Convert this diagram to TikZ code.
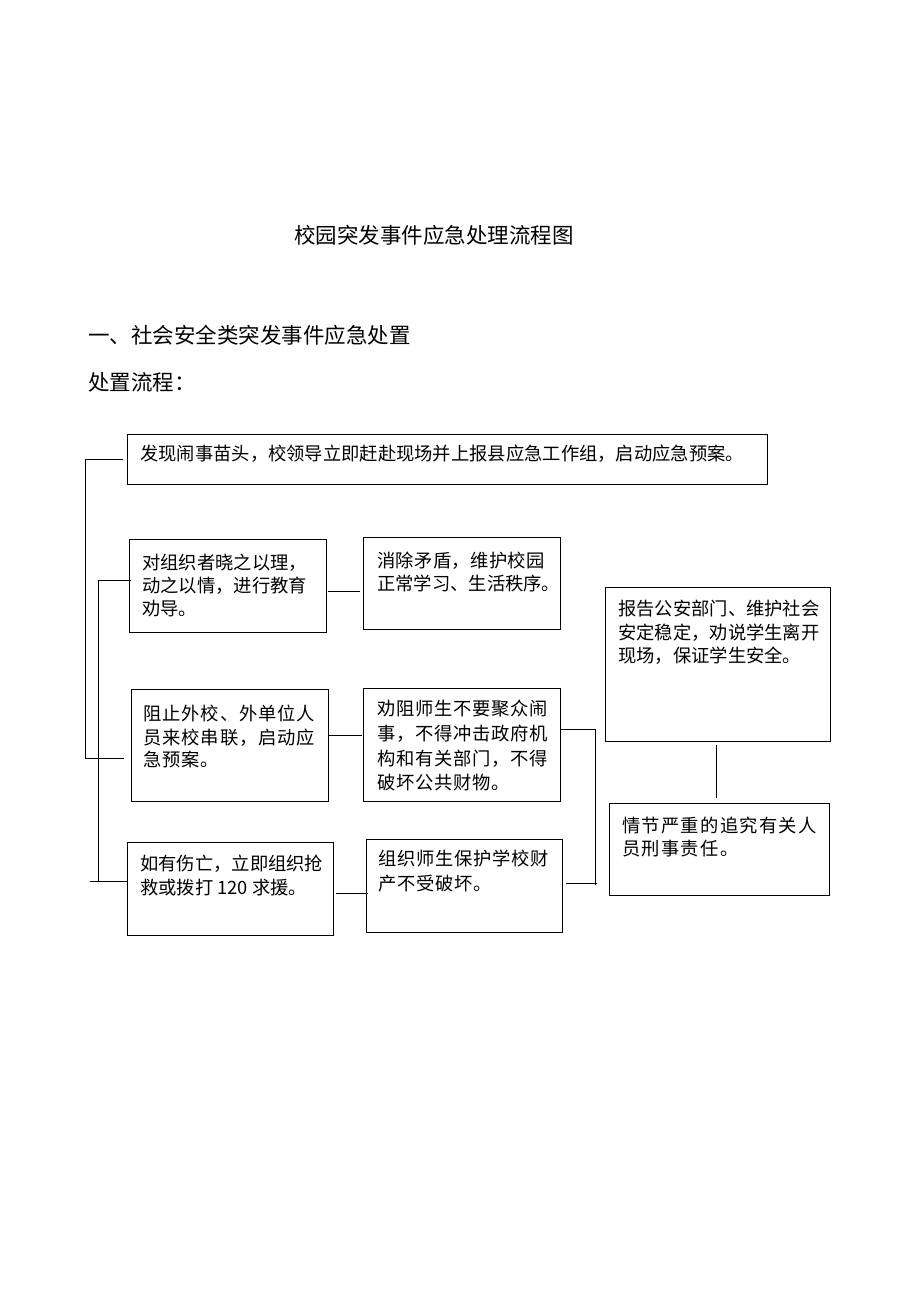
\documentclass[tikz,border=0pt]{standalone}
\usepackage{fontspec}
\setmainfont{Noto Sans CJK SC}
\newcommand\bodyfont{\fontsize{18.3}{23}\selectfont}
\newcommand\headfont{\fontsize{21.5}{26}\selectfont}
\newcommand\wide[1]{\addfontfeature{LetterSpace=#1}}
\begin{document}
\begin{tikzpicture}[x=1pt,y=-1pt,
  box/.style={draw=black,line width=1pt,rectangle,anchor=north west,inner sep=0pt},
  txt/.style={anchor=base west,inner sep=0pt,font=\bodyfont,text=black},
  head/.style={anchor=base west,inner sep=0pt,font=\headfont,text=black},
  link/.style={draw=black,line width=1pt}]
\useasboundingbox[fill=white] (0,0) rectangle (920,1302);
% titles
\node[head,anchor=base] (title) at (434,243) {校园突发事件应急处理流程图};
\node[head] (sec) at (88,343) {一、社会安全类突发事件应急处置};
\node[head] (proc) at (88,390) {处置流程：};
% boxes
\node[box,minimum width=640,minimum height=50] (b1) at (127,434) {};
\node[box,minimum width=197,minimum height=93] (b2) at (129,539) {};
\node[box,minimum width=197,minimum height=92] (b3) at (363,537) {};
\node[box,minimum width=197,minimum height=112] (b4) at (131,689) {};
\node[box,minimum width=197,minimum height=113] (b5) at (363,688) {};
\node[box,minimum width=206,minimum height=93] (b6) at (127,842) {};
\node[box,minimum width=196,minimum height=93] (b7) at (366,839) {};
\node[box,minimum width=225,minimum height=154] (b8) at (605,587) {};
\node[box,minimum width=220,minimum height=92] (b9) at (609,803) {};
% texts
\node[txt] (t1a) at (140,460) {发现闹事苗头，校领导立即赶赴现场并上报县应急工作组，启动应急预案。};
\node[txt] (t2a) at (142,569) {对组织者晓之以理，};
\node[txt] (t2b) at (142,592) {动之以情，进行教育};
\node[txt] (t2c) at (142,615) {劝导。};
\node[txt] (t3a) at (377,567) {\wide{2}消除矛盾，维护校园};
\node[txt] (t3b) at (377,590) {正常学习、生活秩序。};
\node[txt] (t4a) at (143,720) {\wide{5}阻止外校、外单位人};
\node[txt] (t4b) at (143,744) {\wide{5}员来校串联，启动应};
\node[txt] (t4c) at (143,766) {\wide{5}急预案。};
\node[txt] (t5a) at (377,715) {\wide{4}劝阻师生不要聚众闹};
\node[txt] (t5b) at (377,740) {\wide{4}事，不得冲击政府机};
\node[txt] (t5c) at (377,765) {\wide{4}构和有关部门，不得};
\node[txt] (t5d) at (377,789) {\wide{4}破坏公共财物。};
\node[txt] (t6a) at (140,870) {如有伤亡，立即组织抢};
\node[txt] (t6b) at (140,894) {救或拨打 120 求援。};
\node[txt] (t7a) at (378,865) {\wide{4}组织师生保护学校财};
\node[txt] (t7b) at (378,890) {\wide{4}产不受破坏。};
\node[txt] (t8a) at (618,615) {报告公安部门、维护社会};
\node[txt] (t8b) at (618,639) {安定稳定，劝说学生离开};
\node[txt] (t8c) at (618,662) {现场，保证学生安全。};
\node[txt] (t9a) at (622,832) {\wide{7}情节严重的追究有关人};
\node[txt] (t9b) at (622,855) {\wide{7}员刑事责任。};
% connector points
\coordinate (o1) at (123,459);
\coordinate (o2) at (85,459);
\coordinate (o3) at (85,758);
\coordinate (o4) at (124,758);
\coordinate (i1) at (131,580);
\coordinate (i2) at (98,580);
\coordinate (i3) at (98,881);
\coordinate (i4) at (90,881);
\coordinate (i5) at (127,881);
\coordinate (c23a) at (328,591);
\coordinate (c23b) at (360,591);
\coordinate (c45a) at (328,735);
\coordinate (c45b) at (362,735);
\coordinate (c67a) at (336,893);
\coordinate (c67b) at (368,893);
\coordinate (r1) at (561,729);
\coordinate (r2) at (595,729);
\coordinate (r3) at (595,885);
\coordinate (r4) at (566,883);
\coordinate (r5) at (597,883);
\coordinate (v1) at (716,745);
\coordinate (v2) at (716,798);
% connectors
\draw[link] (o1) -- (o2) -- (o3) -- (o4);
\draw[link] (i1) -- (i2) -- (i3);
\draw[link] (i4) -- (i5);
\draw[link] (c23a) -- (c23b);
\draw[link] (c45a) -- (c45b);
\draw[link] (c67a) -- (c67b);
\draw[link] (r1) -- (r2) -- (r3);
\draw[link] (r4) -- (r5);
\draw[link] (v1) -- (v2);
\end{tikzpicture}
\end{document}
